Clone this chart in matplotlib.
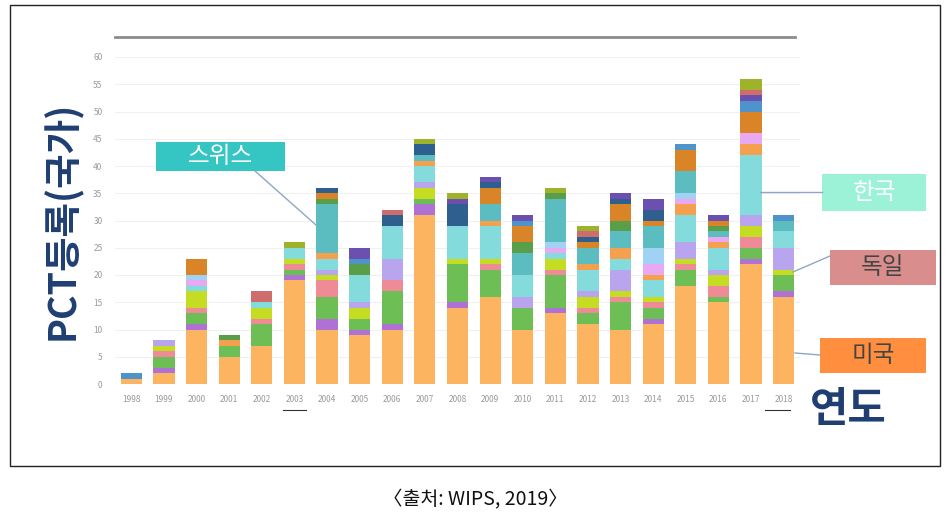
import numpy as np
import matplotlib
matplotlib.use('Agg')
import matplotlib.pyplot as plt
from matplotlib.patches import Rectangle
from matplotlib.lines import Line2D

plt.rcParams['font.family'] = ['Noto Sans CJK KR', 'DejaVu Sans']

years = ['1998', '1999', '2000', '2001', '2002', '2003', '2004', '2005', '2006', '2007',
         '2008', '2009', '2010', '2011', '2012', '2013', '2014', '2015', '2016', '2017', '2018']

# PCT registrations per country (stacked bottom -> top)
usa         = [1, 2, 10, 5, 7, 19, 10, 9, 10, 31, 14, 16, 10, 13, 11, 10, 11, 18, 15, 22, 16]
purple      = [0, 1, 1, 0, 0, 1, 2, 1, 1, 2, 1, 0, 0, 1, 0, 0, 1, 0, 0, 1, 1]
germany     = [0, 2, 2, 2, 4, 1, 4, 2, 6, 1, 7, 5, 4, 6, 2, 5, 2, 3, 1, 2, 3]
pink        = [0, 1, 1, 0, 1, 1, 3, 0, 2, 0, 0, 1, 0, 1, 1, 1, 1, 1, 2, 2, 0]
yellowgreen = [0, 1, 3, 0, 2, 1, 1, 2, 0, 2, 1, 1, 0, 2, 2, 1, 1, 1, 2, 2, 1]
lavender    = [0, 1, 0, 0, 0, 0, 1, 1, 4, 1, 0, 0, 2, 0, 1, 4, 0, 3, 1, 2, 4]
korea       = [0, 0, 1, 0, 1, 2, 2, 5, 6, 3, 6, 6, 4, 1, 4, 2, 3, 5, 4, 11, 3]
salmon      = [0, 0, 0, 1, 0, 0, 1, 0, 0, 1, 0, 1, 0, 0, 1, 2, 1, 2, 1, 2, 0]
pinkviolet  = [0, 0, 1, 0, 0, 0, 0, 0, 0, 0, 0, 0, 0, 1, 0, 0, 2, 1, 1, 2, 0]
lightblue   = [0, 0, 1, 0, 0, 0, 0, 0, 0, 0, 0, 0, 0, 1, 0, 0, 3, 1, 0, 0, 0]
swiss       = [0, 0, 0, 0, 0, 0, 9, 0, 0, 1, 0, 3, 4, 8, 3, 3, 4, 4, 1, 0, 2]
darkgreen   = [0, 0, 0, 1, 0, 0, 1, 2, 0, 0, 0, 0, 2, 1, 0, 2, 0, 0, 1, 0, 0]
orangebrown = [0, 0, 3, 0, 0, 0, 1, 0, 0, 0, 0, 3, 3, 0, 1, 3, 1, 4, 1, 4, 0]
blue        = [1, 0, 0, 0, 0, 0, 0, 1, 0, 0, 0, 0, 1, 0, 0, 0, 0, 1, 0, 2, 1]
darkblue    = [0, 0, 0, 0, 0, 0, 1, 0, 2, 2, 4, 1, 0, 0, 1, 1, 2, 0, 0, 0, 0]
indigo      = [0, 0, 0, 0, 0, 0, 0, 2, 0, 0, 1, 1, 1, 0, 0, 1, 2, 0, 1, 1, 0]
brick       = [0, 0, 0, 0, 2, 0, 0, 0, 1, 0, 0, 0, 0, 0, 1, 0, 0, 0, 0, 1, 0]
olive       = [0, 0, 0, 0, 0, 1, 0, 0, 0, 1, 1, 0, 0, 1, 1, 0, 0, 0, 0, 2, 0]

series = [
    (usa, '#FDB460'), (purple, '#B071D4'), (germany, '#6DBE55'), (pink, '#EF8A97'),
    (yellowgreen, '#C4DC22'), (lavender, '#B9A4EE'), (korea, '#84DBDB'), (salmon, '#F5A04E'),
    (pinkviolet, '#E8A8F2'), (lightblue, '#A0D2F4'), (swiss, '#5CBDC1'), (darkgreen, '#5B9E49'),
    (orangebrown, '#DA8428'), (blue, '#4F93CB'), (darkblue, '#2F5F8F'), (indigo, '#6B50B0'),
    (brick, '#CF6D6D'), (olive, '#9FB22B'),
]

navy = '#1F3F73'
fig = plt.figure(figsize=(9.5, 5.25), dpi=100)
ax = fig.add_axes([115 / 950, (525 - 384) / 525, 685 / 950, 327 / 525])

x = np.arange(len(years))
bottom = np.zeros(len(years))
for vals, col in series:
    v = np.array(vals, dtype=float)
    ax.bar(x, v, bottom=bottom, width=0.65, color=col, linewidth=0)
    bottom += v

ax.set_xlim(-0.5, len(years) - 0.5)
ax.set_ylim(0, 60)
ax.set_yticks(range(0, 61, 5))
ax.set_xticks(x)
ax.set_xticklabels(years)
ax.tick_params(axis='both', length=0, labelsize=6, labelcolor='#9a9a9a')
ax.tick_params(axis='x', pad=8)
ax.tick_params(axis='y', pad=9)
ax.grid(True, axis='y', color='#f0f0f0', linewidth=0.8)
ax.set_axisbelow(True)
for s in ax.spines.values():
    s.set_visible(False)

# top gray rule and outer frame
fig.add_artist(Line2D([115 / 950, 795 / 950], [1 - 37 / 525] * 2, color='#8c8c8c', lw=2))
fig.add_artist(Rectangle((10 / 950, 1 - 466 / 525), 930 / 950, 461 / 525, fill=False,
                         edgecolor='#222222', lw=1, transform=fig.transFigure))

# underline marks under 2003 and 2018
for x0, x1 in [(283, 306), (765, 790)]:
    fig.add_artist(Line2D([x0 / 950, x1 / 950], [1 - 410 / 525] * 2, color='#333333', lw=0.8))

# axis titles
fig.text(62 / 950, 1 - 220 / 525, 'PCT등록(국가)', rotation=90, ha='center', va='center',
         fontsize=27, fontweight='bold', color=navy)
fig.text(848 / 950, 1 - 410 / 525, '연도', ha='center', va='center',
         fontsize=30, fontweight='bold', color=navy)

# callout boxes
def callout(x0, y0, w, h, label, face, tcolor, line):
    fig.add_artist(Rectangle((x0 / 950, 1 - (y0 + h) / 525), w / 950, h / 525,
                             facecolor=face, edgecolor='none', transform=fig.transFigure))
    fig.text((x0 + w / 2) / 950, 1 - (y0 + h / 2) / 525, label, ha='center', va='center',
             fontsize=17, color=tcolor)
    (lx0, ly0), (lx1, ly1) = line
    fig.add_artist(Line2D([lx0 / 950, lx1 / 950], [1 - ly0 / 525, 1 - ly1 / 525],
                          color='#8fa6c4', lw=1))

callout(156, 142, 129, 29, '스위스', '#35C6C4', 'white', ((255, 171), (316, 225)))
callout(822, 174, 104, 37, '한국', '#9BF2D6', 'white', ((760, 192), (822, 192)))
callout(830, 250, 106, 35, '독일', '#D98D8D', '#444444', ((793, 272), (830, 256)))
callout(820, 338, 106, 35, '미국', '#FF8F3F', '#444444', ((795, 353), (820, 355)))

fig.text(0.5, 1 - 500 / 525, '〈출처: WIPS, 2019〉', ha='center', va='center',
         fontsize=14, color='#111111')

fig.savefig('out.png', dpi=100)
